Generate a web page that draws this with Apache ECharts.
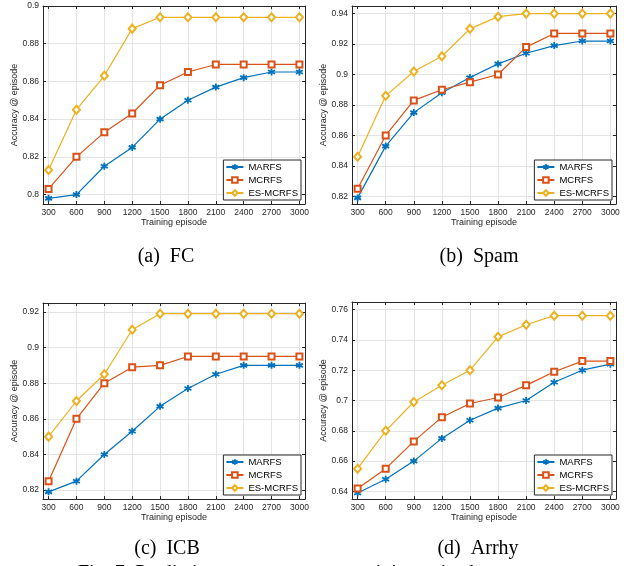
<!DOCTYPE html>
<html>
<head>
<meta charset="utf-8">
<script src="https://cdn.jsdelivr.net/npm/echarts@6/dist/echarts.min.js"></script>
<style>
  html, body { margin: 0; padding: 0; background: #fff; }
  #chart { width: 624px; height: 566px; }
</style>
</head>
<body>
<div id="chart"></div>
<script>
// ---- data ----
const episodes = [300, 600, 900, 1200, 1500, 1800, 2100, 2400, 2700, 3000];
const names = ['MARFS', 'MCRFS', 'ES-MCRFS'];

const fcMARFS = [0.798, 0.800, 0.815, 0.825, 0.840, 0.850, 0.857, 0.862, 0.865, 0.865];
const fcMCRFS = [0.803, 0.820, 0.833, 0.843, 0.858, 0.865, 0.869, 0.869, 0.869, 0.869];
const fcES = [0.813, 0.845, 0.863, 0.888, 0.894, 0.894, 0.894, 0.894, 0.894, 0.894];
const fcTicks = [0.8, 0.82, 0.84, 0.86, 0.88, 0.9];

const spamMARFS = [0.819, 0.853, 0.875, 0.888, 0.898, 0.907, 0.914, 0.919, 0.922, 0.922];
const spamMCRFS = [0.825, 0.860, 0.883, 0.890, 0.895, 0.900, 0.918, 0.927, 0.927, 0.927];
const spamES = [0.846, 0.886, 0.902, 0.912, 0.930, 0.938, 0.940, 0.940, 0.940, 0.940];
const spamTicks = [0.82, 0.84, 0.86, 0.88, 0.9, 0.92, 0.94];

const icbMARFS = [0.819, 0.825, 0.840, 0.853, 0.867, 0.877, 0.885, 0.890, 0.890, 0.890];
const icbMCRFS = [0.825, 0.860, 0.880, 0.889, 0.890, 0.895, 0.895, 0.895, 0.895, 0.895];
const icbES = [0.850, 0.870, 0.885, 0.910, 0.919, 0.919, 0.919, 0.919, 0.919, 0.919];
const icbTicks = [0.82, 0.84, 0.86, 0.88, 0.9, 0.92];

const arrMARFS = [0.639, 0.648, 0.660, 0.675, 0.687, 0.695, 0.700, 0.712, 0.720, 0.724];
const arrMCRFS = [0.642, 0.655, 0.673, 0.689, 0.698, 0.702, 0.710, 0.719, 0.726, 0.726];
const arrES = [0.655, 0.680, 0.699, 0.710, 0.720, 0.742, 0.750, 0.756, 0.756, 0.756];
const arrTicks = [0.64, 0.66, 0.68, 0.7, 0.72, 0.74, 0.76];

const colors = ['#0072BD', '#D95319', '#EDB120'];
const axisColor = '#262626';
const font = 'Liberation Sans';

// asterisk marker like matlab '*'
const asterisk = 'path://M0,-10L0,10M-8.66,-5L8.66,5M-8.66,5L8.66,-5';

const panels = [
  { grid: { left: 43, top: 6, width: 262, height: 198 }, ymin: 0.795, ymax: 0.9, ticks: fcTicks,
    data: [fcMARFS, fcMCRFS, fcES], nameGap: 22 },
  { grid: { left: 352, top: 6, width: 264, height: 198 }, ymin: 0.815, ymax: 0.945, ticks: spamTicks,
    data: [spamMARFS, spamMCRFS, spamES], nameGap: 21 },
  { grid: { left: 43, top: 303, width: 262, height: 196 }, ymin: 0.815, ymax: 0.925, ticks: icbTicks,
    data: [icbMARFS, icbMCRFS, icbES], nameGap: 22 },
  { grid: { left: 352, top: 302, width: 264, height: 197 }, ymin: 0.635, ymax: 0.765, ticks: arrTicks,
    data: [arrMARFS, arrMCRFS, arrES], nameGap: 21 }
];

const grids = [], xAxes = [], yAxes = [], series = [], legends = [];

panels.forEach((p, i) => {
  grids.push(Object.assign({ show: false }, p.grid));

  const line = { show: true, onZero: false, lineStyle: { color: axisColor, width: 1 } };
  const tick = (vals) => ({ show: true, inside: true, length: 3, customValues: vals,
    lineStyle: { color: axisColor, width: 1 } });

  xAxes.push({
    gridIndex: i, type: 'value', position: 'bottom', min: 240, max: 3060,
    axisLine: line, axisTick: tick(episodes),
    axisLabel: { customValues: episodes, fontSize: 8.5, color: axisColor, margin: 4, fontFamily: font,
      formatter: v => String(v) },
    splitLine: { show: true, lineStyle: { color: '#e4e4e4', width: 1 } },
    name: 'Training episode', nameLocation: 'middle', nameGap: 14,
    nameTextStyle: { fontSize: 9, color: axisColor, fontFamily: font }
  });
  xAxes.push({
    gridIndex: i, type: 'value', position: 'top', min: 240, max: 3060,
    axisLine: line, axisTick: tick(episodes),
    axisLabel: { show: false }, splitLine: { show: false }
  });
  yAxes.push({
    gridIndex: i, type: 'value', position: 'left', min: p.ymin, max: p.ymax,
    axisLine: line, axisTick: tick(p.ticks),
    axisLabel: { customValues: p.ticks, fontSize: 8.5, color: axisColor, margin: 4, fontFamily: font,
      formatter: v => String(v) },
    splitLine: { show: true, lineStyle: { color: '#e4e4e4', width: 1 } },
    name: 'Accuracy @ episode', nameLocation: 'middle', nameGap: p.nameGap, nameRotate: 90,
    nameTextStyle: { fontSize: 9, color: axisColor, fontFamily: font }
  });
  yAxes.push({
    gridIndex: i, type: 'value', position: 'right', min: p.ymin, max: p.ymax,
    axisLine: line, axisTick: tick(p.ticks),
    axisLabel: { show: false }, splitLine: { show: false }
  });

  const symbols = [asterisk, 'emptyRect', 'emptyDiamond'];
  const sizes = [7, 6, [7, 8]];
  p.data.forEach((vals, k) => {
    series.push({
      name: names[k], type: 'line', xAxisIndex: 2 * i, yAxisIndex: 2 * i,
      data: episodes.map((x, j) => [x, vals[j]]),
      symbol: symbols[k], symbolSize: sizes[k], showAllSymbol: true,
      lineStyle: { color: colors[k], width: 1.2 },
      itemStyle: k === 0
        ? { color: colors[k], borderColor: colors[k], borderWidth: 1.8 }
        : { color: colors[k], borderColor: colors[k], borderWidth: 1.1 },
      animation: false, silent: true
    });
  });

  const g = p.grid;
  legends.push({
    data: names, orient: 'vertical',
    right: 624 - (g.left + g.width) + 4, bottom: 566 - (g.top + g.height) + 4,
    itemWidth: 17, itemHeight: 7, itemGap: 3,
    padding: [2, 3, 2, 2],
    backgroundColor: '#fff', borderColor: axisColor, borderWidth: 1, borderRadius: 0,
    textStyle: { fontSize: 9.5, color: '#000', fontFamily: font },
    selectedMode: false
  });
});

const serif = '"Liberation Serif", "DejaVu Serif", serif';
const caption = (txt, x, y) => ({
  type: 'text', x: x, y: y, silent: true,
  style: { text: txt, font: '20px ' + serif, fill: '#000', align: 'center', verticalAlign: 'middle' }
});

const chart = echarts.init(document.getElementById('chart'), null, { renderer: 'canvas' });
chart.setOption({
  animation: false,
  backgroundColor: '#fff',
  grid: grids,
  xAxis: xAxes,
  yAxis: yAxes,
  legend: legends,
  series: series,
  graphic: [
    caption('(a)  FC', 166, 257),
    caption('(b)  Spam', 479, 257),
    caption('(c)  ICB', 167, 549),
    caption('(d)  Arrhy', 478, 549),
    { type: 'text', x: 78, y: 574, silent: true,
      style: { text: 'Fig. 7: Prediction accuracy versus training episodes.', font: '20px ' + serif,
        fill: '#000', align: 'left', verticalAlign: 'middle' } }
  ]
});
</script>
</body>
</html>
